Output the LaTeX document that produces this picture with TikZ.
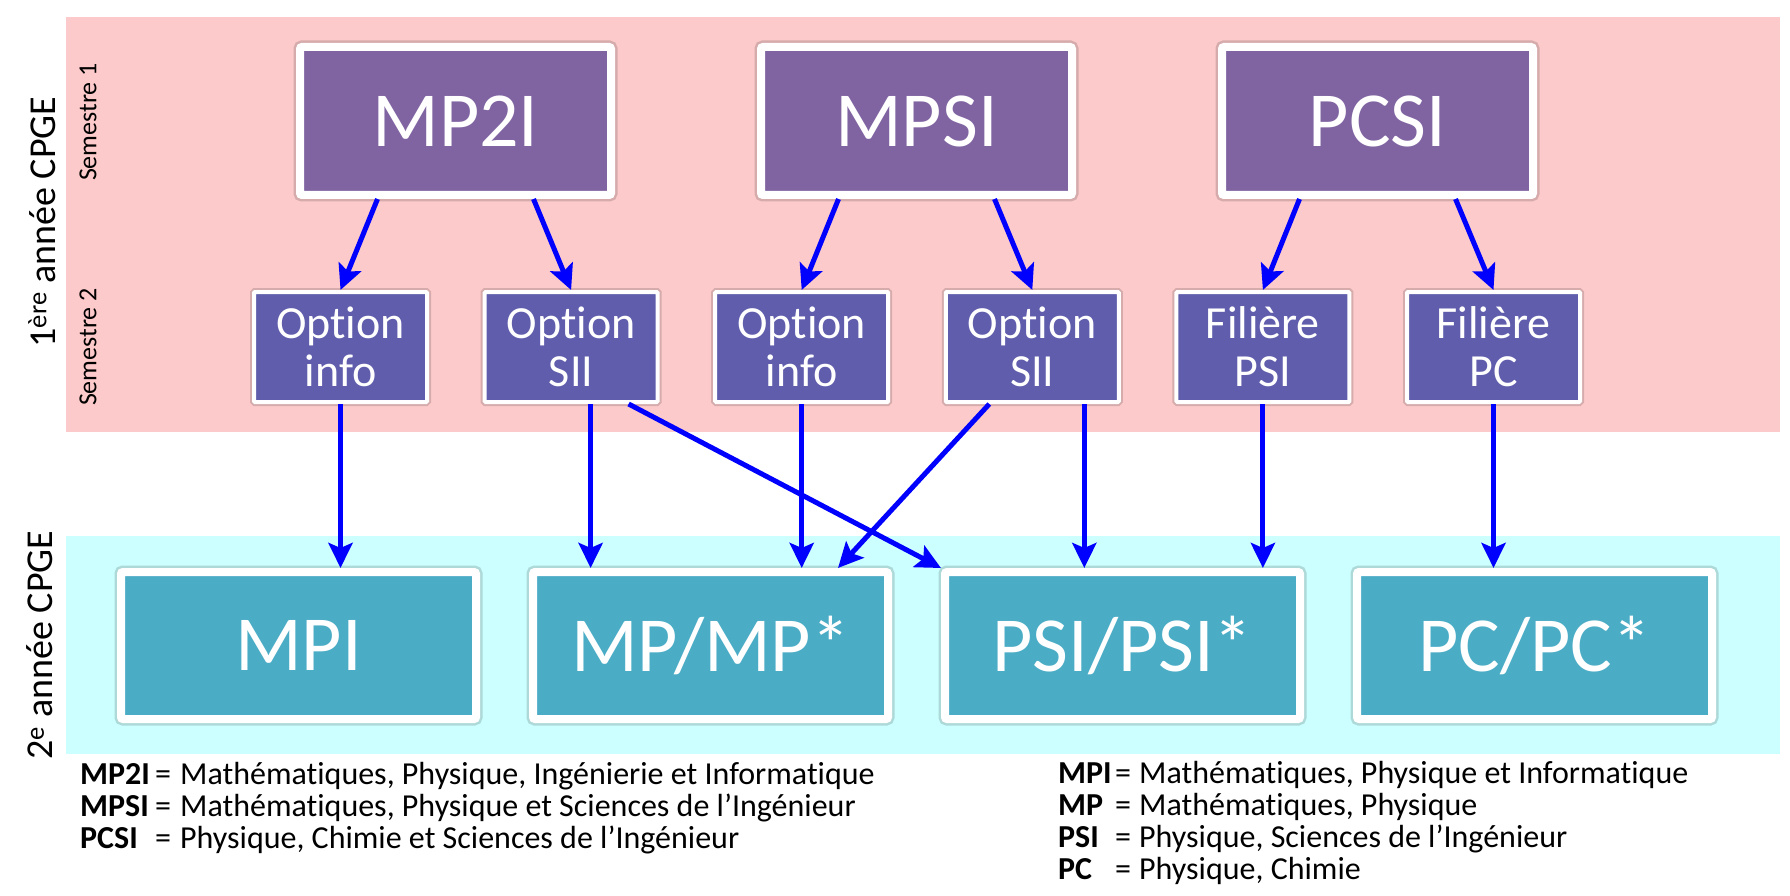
\documentclass[tikz,border=0pt]{standalone}
\usepackage{fontspec}
\setmainfont[Ligatures=NoCommon]{Carlito}
\usepackage{xcolor}
\usepackage{tikz}
\usetikzlibrary{arrows.meta, positioning}
\definecolor{bandpink}{RGB}{252,202,202}
\definecolor{bandcyan}{RGB}{204,255,255}
\definecolor{semviolet}{RGB}{128,100,162}
\definecolor{optblue}{RGB}{95,93,172}
\definecolor{yearteal}{RGB}{75,172,198}
\tikzset{
  topbox/.style={rectangle, draw=white, line width=8pt, fill=semviolet, rounded corners=2pt, inner sep=0pt, minimum width=311pt, minimum height=148pt, text=white, font=\fontsize{78}{80}\selectfont, preaction={draw=black, draw opacity=0.15, line width=13pt}},
  optbox/.style={rectangle, draw=white, line width=4pt, fill=optblue, rounded corners=1pt, inner sep=0pt, minimum width=173pt, minimum height=110pt, align=center, text=white, font=\fontsize{46}{48}\selectfont, preaction={draw=black, draw opacity=0.15, line width=8pt}},
  yearbox/.style={rectangle, draw=white, line width=8pt, fill=yearteal, rounded corners=2pt, inner sep=0pt, minimum width=355pt, minimum height=147pt, text=white, font=\fontsize{78}{80}\selectfont, preaction={draw=black, draw opacity=0.15, line width=13pt}},
  arrow/.style={-{Stealth[length=25pt, width=24pt, inset=5pt]}, line width=5pt, blue},
  sidelabel/.style={rotate=90, inner sep=0pt, font=\fontsize{38}{40}\selectfont},
  semlabel/.style={rotate=90, inner sep=0pt, font=\fontsize{26}{28}\selectfont},
  legend/.style={anchor=base west, inner sep=0pt, font=\fontsize{32}{32}\selectfont},
}

\begin{document}
\begin{tikzpicture}[x=1pt, y=-1pt]
    \useasboundingbox (0,0) rectangle (1790,896);
    \fill[bandpink] (66,17) rectangle (1780,432);
    \fill[bandcyan] (66,536) rectangle (1780,754);

    \node[sidelabel] (year1) at (42,222) {1\textsuperscript{ère} année CPGE};
    \node[semlabel] (sem1) at (88,122) {Semestre 1};
    \node[semlabel] (sem2) at (88,347) {Semestre 2};
    \node[sidelabel] (year2) at (40,645) {2\textsuperscript{e} année CPGE};

    \node[topbox] (mp2i) at (455.5,121) {MP2I};
    \node[topbox, right=142pt of mp2i] (mpsi) {MPSI};
    \node[topbox, right=142pt of mpsi] (pcsi) {PCSI};

    \node[optbox] (info1) at (340.5,347) {Option\\info};
    \node[optbox, right=53.6pt of info1] (sii1) {Option\\SII};
    \node[optbox, right=53.6pt of sii1] (info2) {Option\\info};
    \node[optbox, right=53.6pt of info2] (sii2) {Option\\SII};
    \node[optbox, right=53.6pt of sii2] (filpsi) {Filière\\PSI};
    \node[optbox, right=53.6pt of filpsi] (filpc) {Filière\\PC};

    \node[yearbox] (mpi) at (298.5,645.5) {MPI};
    \node[yearbox, right=49pt of mpi] (mp) {MP/MP*};
    \node[yearbox, right=49pt of mp] (psi) {PSI/PSI*};
    \node[yearbox, right=49pt of psi] (pc) {PC/PC*};

    \draw[arrow] ([xshift=-78pt]mp2i.south) -- (info1.north);
    \draw[arrow] ([xshift=78pt]mp2i.south) -- (sii1.north);
    \draw[arrow] ([xshift=-78pt]mpsi.south) -- (info2.north);
    \draw[arrow] ([xshift=78pt]mpsi.south) -- (sii2.north);
    \draw[arrow] ([xshift=-78pt]pcsi.south) -- (filpsi.north);
    \draw[arrow] ([xshift=78pt]pcsi.south) -- (filpc.north);

    \draw[arrow] (info1.south) -- (info1.south |- mpi.north);
    \draw[arrow] ([xshift=19.5pt]sii1.south) -- ([xshift=19.5pt]sii1.south |- mp.north);
    \draw[arrow] ([xshift=57.5pt]sii1.south) -- (psi.north west);
    \draw[arrow] (info2.south) -- (info2.south |- mp.north);
    \draw[arrow] ([xshift=-43pt]sii2.south) -- ([xshift=127.5pt]mp.north);
    \draw[arrow] ([xshift=52pt]sii2.south) -- ([xshift=52pt]sii2.south |- psi.north);
    \draw[arrow] (filpsi.south) -- (filpsi.south |- psi.north);
    \draw[arrow] (filpc.south) -- (filpc.south |- pc.north);

    \node[legend] (lmp2i) at (80,784) {\makebox[75pt][l]{\bfseries MP2I}\makebox[25pt][l]{=}Mathématiques, Physique, Ingénierie et Informatique};
    \node[legend] (lmpsi) at (80,816) {\makebox[75pt][l]{\bfseries MPSI}\makebox[25pt][l]{=}Mathématiques, Physique et Sciences de l’Ingénieur};
    \node[legend] (lpcsi) at (80,848) {\makebox[75pt][l]{\bfseries PCSI}\makebox[25pt][l]{=}Physique, Chimie et Sciences de l’Ingénieur};

    \node[legend] (lmpi) at (1058,783) {\makebox[57pt][l]{\bfseries MPI}\makebox[24pt][l]{=}Mathématiques, Physique et Informatique};
    \node[legend] (lmp) at (1058,815) {\makebox[57pt][l]{\bfseries MP}\makebox[24pt][l]{=}Mathématiques, Physique};
    \node[legend] (lpsi) at (1058,847) {\makebox[57pt][l]{\bfseries PSI}\makebox[24pt][l]{=}Physique, Sciences de l’Ingénieur};
    \node[legend] (lpc) at (1058,879) {\makebox[57pt][l]{\bfseries PC}\makebox[24pt][l]{=}Physique, Chimie};
  \end{tikzpicture}
\end{document}
